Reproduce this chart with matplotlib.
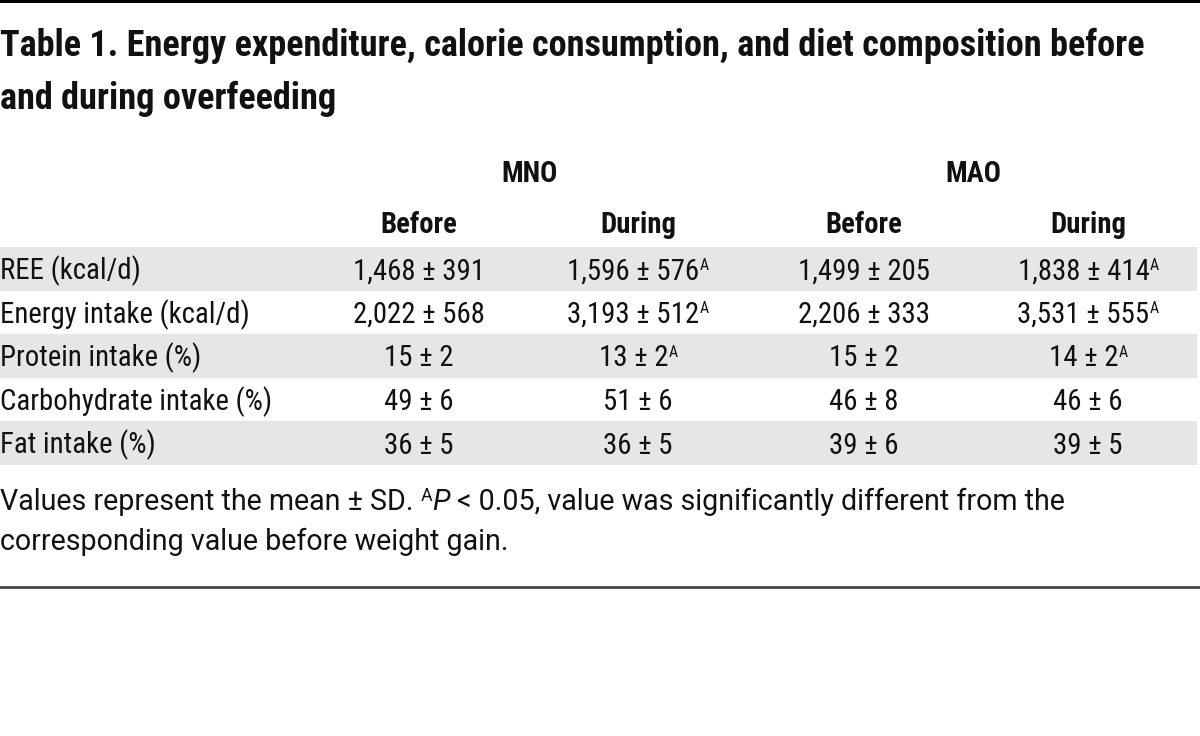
import os
import matplotlib
matplotlib.use("Agg")
import matplotlib.pyplot as plt
from matplotlib import font_manager as fm
from matplotlib.font_manager import FontProperties
from matplotlib.patches import Rectangle
from matplotlib.lines import Line2D

# ---------------- data ----------------
title_lines = ["Table 1. Energy expenditure, calorie consumption, and diet composition before",
               "and during overfeeding"]
groups = ["MNO", "MAO"]
subcols = ["Before", "During", "Before", "During"]
row_labels = ["REE (kcal/d)", "Energy intake (kcal/d)", "Protein intake (%)",
              "Carbohydrate intake (%)", "Fat intake (%)"]
mno_before = ["1,468 ± 391", "2,022 ± 568", "15 ± 2", "49 ± 6", "36 ± 5"]
mno_during = ["1,596 ± 576", "3,193 ± 512", "13 ± 2", "51 ± 6", "36 ± 5"]
mao_before = ["1,499 ± 205", "2,206 ± 333", "15 ± 2", "46 ± 8", "39 ± 6"]
mao_during = ["1,838 ± 414", "3,531 ± 555", "14 ± 2", "46 ± 6", "39 ± 5"]
mno_before_sig = [False, False, False, False, False]
mno_during_sig = [True, True, True, False, False]
mao_before_sig = [False, False, False, False, False]
mao_during_sig = [True, True, True, False, False]
shaded_rows = [True, False, True, False, True]
footnote_pre = "Values represent the mean ± SD. "
footnote_sup = "A"
footnote_ital = "P"
footnote_post = " < 0.05, value was significantly different from the"
footnote_line2 = "corresponding value before weight gain."

# ---------------- layout (pixels) ----------------
W, H, DPI = 1200, 736, 100
col_x = [419, 638, 864, 1088]
group_x = [530, 973]
group_base = 182
sub_base = 233
band_top = 247
row_pitch = 43.6
title_base = [56, 109]
foot_base = [510, 550]
top_rule_y = 1
bottom_rule_y = 587
band_color = "#e6e6e6"
text_color = "#111111"

# ---------------- fonts ----------------
def find_font(basenames):
    files = {}
    for f in fm.fontManager.ttflist:
        files.setdefault(os.path.splitext(os.path.basename(f.fname))[0].lower(), f.fname)
    for b in basenames:
        if b.lower() in files:
            return FontProperties(fname=files[b.lower()])
    return None

cond_reg = find_font(["RobotoCondensed-Regular", "NotoSans-Condensed", "NotoSans-CondensedRegular",
                      "LiberationSansNarrow-Regular", "DejaVuSansCondensed"]) \
    or FontProperties(family="DejaVu Sans", stretch="condensed")
cond_bold = find_font(["RobotoCondensed-Bold", "NotoSans-CondensedSemiBold", "NotoSans-CondensedBold",
                       "LiberationSansNarrow-Bold", "DejaVuSansCondensed-Bold"]) \
    or FontProperties(family="DejaVu Sans", stretch="condensed", weight="bold")
foot_reg = FontProperties(family=["Roboto", "DejaVu Sans"])
foot_ital = FontProperties(family=["Roboto", "DejaVu Sans"], style="italic")

fig = plt.figure(figsize=(W / DPI, H / DPI), dpi=DPI)
fig.patch.set_facecolor("white")
renderer = fig.canvas.get_renderer()


def sized(fp, size):
    p = fp.copy()
    p.set_size(size)
    return p


def raw_width(s, fp, size):
    t = fig.text(0, 0, s, fontproperties=sized(fp, size))
    w = t.get_window_extent(renderer).width
    t.remove()
    return w


def adv_width(s, fp, size):
    return raw_width("|" + s + "|", fp, size) - raw_width("||", fp, size)


def fit(s, fp, target):
    return 20.0 * target / adv_width(s, fp, 20.0)


def put(x, y_base, s, fp, size, ha="left"):
    fig.text(x / W, 1 - y_base / H, s, fontproperties=sized(fp, size),
             ha=ha, va="baseline", color=text_color)


def draw_runs(x, y_base, runs, ha="left"):
    # runs: (text, fontprops, size, rise_px)
    widths = [adv_width(r[0], r[1], r[2]) for r in runs]
    if ha == "center":
        x -= sum(widths) / 2.0
    for (s, fp, size, rise), w in zip(runs, widths):
        stripped = s.lstrip(" ")
        lead = adv_width(s[:len(s) - len(stripped)], fp, size) if len(stripped) < len(s) else 0
        stripped = stripped.rstrip(" ")
        if stripped:
            put(x + lead, y_base - rise, stripped, fp, size)
        x += w


# ---------------- sizes ----------------
cell_size = fit("Carbohydrate intake (%)", cond_reg, 258) * 1.05
head_size = fit("Before", cond_bold, 74) * 1.03
title_size = fit(title_lines[0], cond_bold, 1143)
foot_size = fit(footnote_pre + "AP" + footnote_post, foot_reg, 1070)
cap_px = 0.72 * cell_size * DPI / 72.0

# ---------------- rules & bands ----------------
fig.add_artist(Line2D([0, 1], [1 - top_rule_y / H] * 2, transform=fig.transFigure,
                      color="black", linewidth=2.2))
fig.add_artist(Line2D([0, 1], [1 - bottom_rule_y / H] * 2, transform=fig.transFigure,
                      color="#444444", linewidth=2.0))
for i, sh in enumerate(shaded_rows):
    if sh:
        y0 = band_top + i * row_pitch
        fig.add_artist(Rectangle((0, 1 - (y0 + row_pitch) / H), 1197 / W, row_pitch / H,
                                 transform=fig.transFigure, facecolor=band_color,
                                 edgecolor="none", zorder=0))

# ---------------- title ----------------
for line, yb in zip(title_lines, title_base):
    put(0, yb, line, cond_bold, title_size)

# ---------------- headers ----------------
for g, gx in zip(groups, group_x):
    put(gx, group_base, g, cond_bold, head_size, ha="center")
for s, cx in zip(subcols, col_x):
    put(cx, sub_base, s, cond_bold, head_size, ha="center")

# ---------------- body ----------------
columns = [(mno_before, mno_before_sig), (mno_during, mno_during_sig),
           (mao_before, mao_before_sig), (mao_during, mao_during_sig)]
sup_size = cell_size * 0.55
sup_rise = cap_px * 0.45
for i, label in enumerate(row_labels):
    yb = band_top + i * row_pitch + row_pitch / 2 + cap_px / 2
    put(0, yb, label, cond_reg, cell_size)
    for (vals, sig), cx in zip(columns, col_x):
        runs = [(vals[i], cond_reg, cell_size, 0)]
        if sig[i]:
            runs.append(("A", cond_reg, sup_size, sup_rise))
        draw_runs(cx, yb, runs, ha="center")

# ---------------- footnote ----------------
fcap = 0.72 * foot_size * DPI / 72.0
draw_runs(0, foot_base[0], [
    (footnote_pre, foot_reg, foot_size, 0),
    (footnote_sup, foot_reg, foot_size * 0.62, fcap * 0.42),
    (footnote_ital, foot_ital, foot_size, 0),
    (footnote_post, foot_reg, foot_size, 0),
])
put(0, foot_base[1], footnote_line2, foot_reg, foot_size)

fig.savefig("out.png", dpi=DPI, facecolor="white")
